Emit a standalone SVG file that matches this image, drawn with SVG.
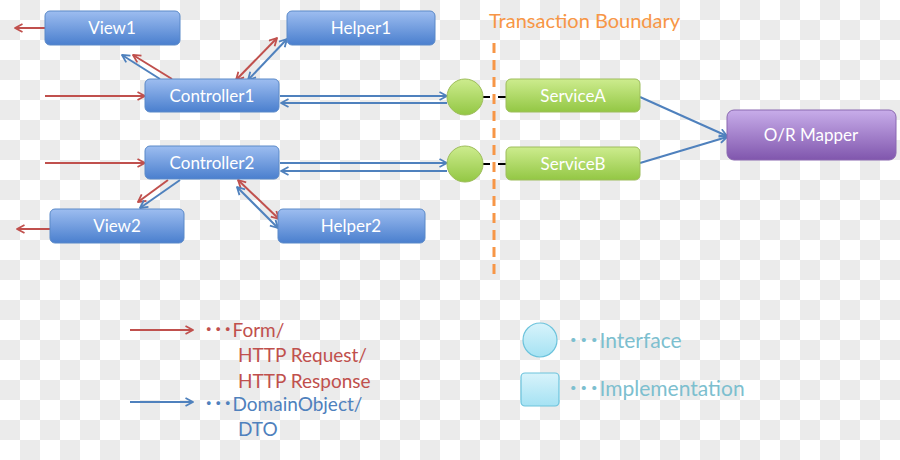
<svg xmlns="http://www.w3.org/2000/svg" width="900" height="460" viewBox="0 0 900 460">
<defs>
<pattern id="chk" width="40" height="40" patternUnits="userSpaceOnUse">
<rect width="40" height="40" fill="#ffffff"/>
<rect x="20" y="0" width="20" height="20" fill="#ebebeb"/>
<rect x="0" y="20" width="20" height="20" fill="#ebebeb"/>
</pattern>
<linearGradient id="gBlue" x1="0" y1="0" x2="0" y2="1">
<stop offset="0" stop-color="#9dbdf0"/>
<stop offset="1" stop-color="#4a7fce"/>
</linearGradient>
<linearGradient id="gGreen" x1="0" y1="0" x2="0" y2="1">
<stop offset="0" stop-color="#cdec8e"/>
<stop offset="1" stop-color="#93c744"/>
</linearGradient>
<linearGradient id="gPurple" x1="0" y1="0" x2="0" y2="1">
<stop offset="0" stop-color="#c8adea"/>
<stop offset="1" stop-color="#8056ad"/>
</linearGradient>
<linearGradient id="gCyan" x1="0" y1="0" x2="0" y2="1">
<stop offset="0" stop-color="#d8f3fb"/>
<stop offset="1" stop-color="#a5e2f3"/>
</linearGradient>
<marker id="aR" viewBox="0 0 10 10" refX="9" refY="5" markerWidth="10" markerHeight="10" orient="auto-start-reverse" markerUnits="userSpaceOnUse">
<path d="M1.5,1 L9,5 L1.5,9" fill="none" stroke="#c0504d" stroke-width="1.8" stroke-linejoin="round"/>
</marker>
<marker id="aB" viewBox="0 0 10 10" refX="9" refY="5" markerWidth="10" markerHeight="10" orient="auto-start-reverse" markerUnits="userSpaceOnUse">
<path d="M1.5,1 L9,5 L1.5,9" fill="none" stroke="#4f81bd" stroke-width="1.8" stroke-linejoin="round"/>
</marker>
</defs>
<style>
.nb{fill:url(#gBlue);stroke:#5a89c8;stroke-width:1}
.ng{fill:url(#gGreen);stroke:#9ebd5c;stroke-width:1}
.np{fill:url(#gPurple);stroke:#8a68b0;stroke-width:1}
.lbl{font-family:Lato,"Open Sans","Liberation Sans",sans-serif;font-size:17px;fill:#ffffff;text-anchor:middle}
.r{stroke:#c0504d;stroke-width:2;fill:none}
.b{stroke:#4f81bd;stroke-width:2;fill:none}
.leg{font-family:Lato,"Open Sans","Liberation Sans","Noto Sans CJK JP",sans-serif;font-size:19px}
.leg2{font-family:Lato,"Open Sans","Liberation Sans","Noto Sans CJK JP",sans-serif;font-size:21px;fill:#7dbfcf}
.dots{font-weight:bold}
</style>
<rect width="900" height="460" fill="url(#chk)"/>

<g id="connectors">
<line class="r" x1="45" y1="28" x2="15" y2="28" marker-end="url(#aR)"/>
<line class="b" x1="160" y1="79" x2="122" y2="55" marker-end="url(#aB)"/>
<line class="r" x1="172" y1="79" x2="133" y2="55" marker-end="url(#aR)"/>
<line class="r" x1="236" y1="80" x2="277" y2="38" marker-start="url(#aR)" marker-end="url(#aR)"/>
<line class="b" x1="248" y1="80" x2="287" y2="39" marker-start="url(#aB)" marker-end="url(#aB)"/>
<line class="r" x1="45" y1="96" x2="145" y2="96" marker-end="url(#aR)"/>
<line class="b" x1="280" y1="96" x2="447" y2="96" marker-end="url(#aB)"/>
<line class="b" x1="447" y1="103" x2="281" y2="103" marker-end="url(#aB)"/>
<line class="r" x1="45" y1="163" x2="145" y2="163" marker-end="url(#aR)"/>
<line class="b" x1="280" y1="163" x2="447" y2="163" marker-end="url(#aB)"/>
<line class="b" x1="447" y1="171" x2="281" y2="171" marker-end="url(#aB)"/>
<line class="r" x1="168" y1="180" x2="138" y2="202" marker-end="url(#aR)"/>
<line class="b" x1="180" y1="180" x2="140" y2="208" marker-end="url(#aB)"/>
<line class="r" x1="238" y1="180" x2="279" y2="219" marker-start="url(#aR)" marker-end="url(#aR)"/>
<line class="b" x1="237" y1="187" x2="278" y2="228" marker-start="url(#aB)" marker-end="url(#aB)"/>
<line class="r" x1="50" y1="229" x2="17" y2="229" marker-end="url(#aR)"/>
<line x1="483" y1="97" x2="490" y2="97" stroke="#000" stroke-width="2"/>
<line x1="498" y1="97" x2="506" y2="97" stroke="#000" stroke-width="2"/>
<line x1="483" y1="164" x2="490" y2="164" stroke="#000" stroke-width="2"/>
<line x1="498" y1="164" x2="506" y2="164" stroke="#000" stroke-width="2"/>
<line class="b" x1="640" y1="97" x2="727" y2="136" marker-end="url(#aB)"/>
<line class="b" x1="640" y1="163" x2="727" y2="137" marker-end="url(#aB)"/>
</g>

<g id="boundary">
<line x1="494" y1="43" x2="494" y2="276" stroke="#f79646" stroke-width="3" stroke-dasharray="10,7"/>
<text x="489" y="28" font-family="Lato,'Open Sans','Liberation Sans',sans-serif" font-size="20" fill="#f79646">Transaction Boundary</text>
</g>

<g id="view1"><rect class="nb" x="45" y="11" width="135" height="34" rx="5"/><text class="lbl" x="112" y="34">View1</text></g>
<g id="helper1"><rect class="nb" x="287" y="11" width="148" height="34" rx="5"/><text class="lbl" x="361" y="34">Helper1</text></g>
<g id="controller1"><rect class="nb" x="145" y="79" width="134" height="33" rx="5"/><text class="lbl" x="212" y="102">Controller1</text></g>
<g id="controller2"><rect class="nb" x="145" y="146" width="134" height="33" rx="5"/><text class="lbl" x="212" y="169">Controller2</text></g>
<g id="view2"><rect class="nb" x="50" y="209" width="134" height="34" rx="5"/><text class="lbl" x="117" y="232">View2</text></g>
<g id="helper2"><rect class="nb" x="278" y="209" width="147" height="34" rx="5"/><text class="lbl" x="351" y="232">Helper2</text></g>
<g id="ifaceA"><circle cx="465" cy="97" r="18" fill="url(#gGreen)" stroke="#9ebd5c"/></g>
<g id="ifaceB"><circle cx="465" cy="164" r="18" fill="url(#gGreen)" stroke="#9ebd5c"/></g>
<g id="serviceA"><rect class="ng" x="506" y="79" width="134" height="33" rx="5"/><text class="lbl" x="573" y="102">ServiceA</text></g>
<g id="serviceB"><rect class="ng" x="506" y="147" width="134" height="33" rx="5"/><text class="lbl" x="573" y="170">ServiceB</text></g>
<g id="ormapper"><rect class="np" x="727" y="110" width="169" height="50" rx="7"/><text class="lbl" x="811" y="141">O/R Mapper</text></g>

<g id="legend">
<line class="r" x1="130" y1="330" x2="193" y2="330" marker-end="url(#aR)"/>
<text class="leg" x="204" y="337" fill="#c0504d"><tspan class="dots">･･･</tspan>Form/</text>
<text class="leg" x="238" y="362" fill="#c0504d">HTTP Request/</text>
<text class="leg" x="238" y="388" fill="#c0504d">HTTP Response</text>
<line class="b" x1="130" y1="402" x2="193" y2="402" marker-end="url(#aB)"/>
<text class="leg" x="204" y="411" fill="#4f81bd"><tspan class="dots">･･･</tspan>DomainObject/</text>
<text class="leg" x="238" y="436" fill="#4f81bd">DTO</text>
<circle cx="540" cy="340" r="17" fill="url(#gCyan)" stroke="#6cc3dc" stroke-width="1.2"/>
<text class="leg2" x="568" y="348"><tspan class="dots">･･･</tspan>Interface</text>
<rect x="521" y="373" width="38" height="33" rx="4" fill="url(#gCyan)" stroke="#6cc3dc" stroke-width="1.2"/>
<text class="leg2" x="568" y="396"><tspan class="dots">･･･</tspan>Implementation</text>
</g>
</svg>
